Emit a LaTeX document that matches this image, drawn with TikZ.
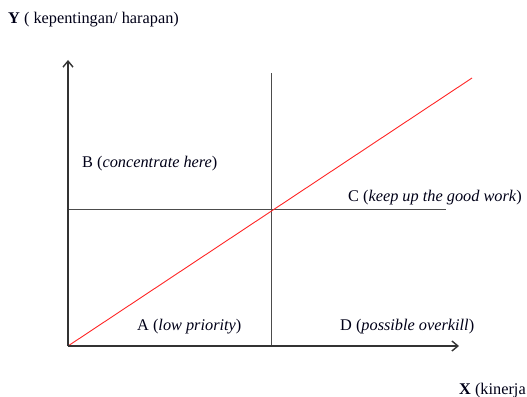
\documentclass[tikz,border=0pt]{standalone}
\usepackage{fontspec}
\setmainfont{Liberation Serif}
\usetikzlibrary{arrows.meta}
\begin{document}
\begin{tikzpicture}[x=1pt,y=-1pt,
  axis/.style={draw=black!80, line width=1.4pt},
  divider/.style={draw=black!70, line width=1pt},
  trend/.style={draw=red!85!white, line width=0.9pt},
  lbl/.style={inner sep=0pt, font=\fontsize{16.3}{18}\selectfont, text=black!85!blue!60!black}]
\useasboundingbox (0,0) rectangle (527,396);
\coordinate (O) at (68,346);
\coordinate (Ytop) at (68,60);
\coordinate (Xend) at (459,346);
\coordinate (Vtop) at (271,73);
\coordinate (Vbot) at (271,346);
\coordinate (Hl) at (68,209);
\coordinate (Hr) at (446,209);
\coordinate (Rend) at (472,78);
\draw[divider] (Vtop) -- (Vbot);
\draw[divider] (Hl) -- (Hr);
\draw[trend] (O) -- (Rend);
\draw[axis, -{Straight Barb[length=6pt,width=10pt]}] (O) -- (Ytop);
\draw[axis, -{Straight Barb[length=6pt,width=10pt]}] (O) -- (Xend);
\node[lbl, anchor=base west] (ylab) at (8,24) {\textbf{Y} ( kepentingan/ harapan)};
\node[lbl, anchor=base west] (b) at (82,167) {B (\textit{concentrate here})};
\node[lbl, anchor=base east] (c) at (522,201) {C (\textit{keep up the good work})};
\node[lbl, anchor=base west] (a) at (137,330) {A (\textit{low priority})};
\node[lbl, anchor=base west] (d) at (340,330) {D (\textit{possible overkill})};
\node[lbl, anchor=base west] (xlab) at (459,394) {\textbf{X} (kinerja};
\end{tikzpicture}
\end{document}
